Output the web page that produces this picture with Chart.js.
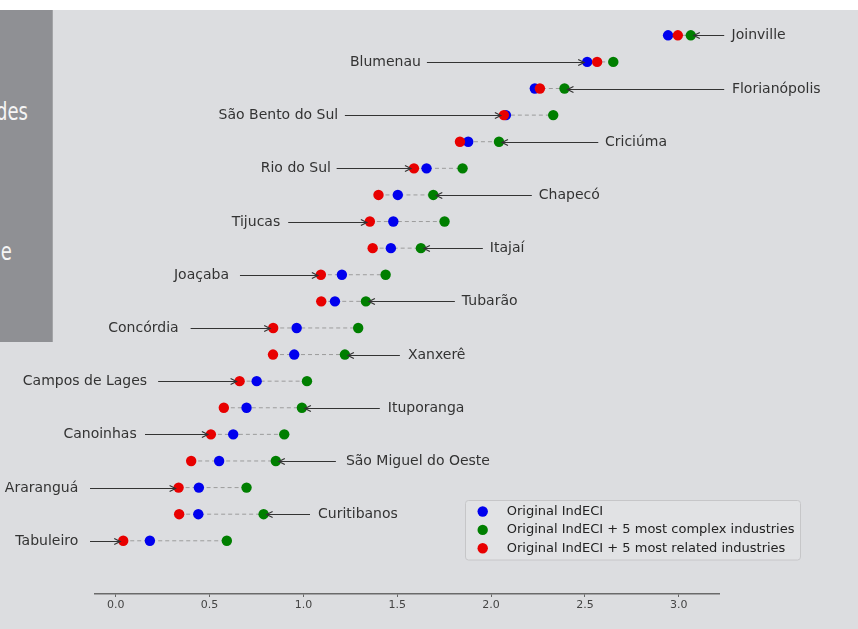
<!DOCTYPE html>
<html>
<head>
<meta charset="utf-8">
<script src="https://cdn.jsdelivr.net/npm/chart.js@4.4.1/dist/chart.umd.min.js"></script>
<style>
  html, body { margin: 0; padding: 0; background: #ffffff; overflow: hidden; }
  #bg { position: absolute; left: 0; top: 10px; width: 858px; height: 619px; background: #dcdde0; }
  #box { position: absolute; left: 0; top: 0; width: 858px; height: 629px; }
  #panel { position: absolute; left: 0; top: 10px; width: 52px; height: 332px; background: #8f9094;
           border-right: 1px solid #a3a4a7; overflow: hidden; }
  #panel span { position: absolute; white-space: nowrap; color: #f5f5f5;
                font-family: "DejaVu Sans Condensed", "Liberation Sans Narrow", sans-serif; font-size: 25px; line-height: 30px;
                transform: scaleX(0.8); transform-origin: right center; }
</style>
</head>
<body>
<div id="bg"></div>
<div id="box"><canvas id="myChart"></canvas></div>
<div id="panel"><span style="top:87px;right:24px">des</span><span style="top:227px;right:40px">e</span></div>
<script>
const regions = ["Joinville", "Blumenau", "Florianópolis", "São Bento do Sul", "Criciúma",
  "Rio do Sul", "Chapecó", "Tijucas", "Itajaí", "Joaçaba", "Tubarão", "Concórdia", "Xanxerê",
  "Campos de Lages", "Ituporanga", "Canoinhas", "São Miguel do Oeste", "Araranguá",
  "Curitibanos", "Tabuleiro"];
const original = [2.943, 2.512, 2.233, 2.079, 1.878, 1.656, 1.503, 1.479, 1.466, 1.205,
  1.168, 0.964, 0.951, 0.751, 0.697, 0.626, 0.551, 0.443, 0.440, 0.182];
const complexPlus = [3.064, 2.651, 2.391, 2.331, 2.042, 1.848, 1.692, 1.752, 1.626, 1.438,
  1.333, 1.292, 1.221, 1.019, 0.992, 0.898, 0.853, 0.697, 0.788, 0.592];
const relatedPlus = [2.995, 2.565, 2.260, 2.068, 1.834, 1.589, 1.400, 1.354, 1.369, 1.093,
  1.095, 0.839, 0.838, 0.660, 0.576, 0.507, 0.402, 0.335, 0.338, 0.040];
const tickValues = [0, 0.5, 1.0, 1.5, 2.0, 2.5, 3.0];

// where each label's arrow starts (x axis units) and the gap to its text (px)
const labelFrom = [3.242, 1.658, 3.242, 1.221, 2.571, 1.177, 2.217, 0.919, 1.956, 0.662,
  1.807, 0.399, 1.514, 0.226, 1.407, 0.156, 1.173, -0.137, 1.035, -0.137];
const labelGap = [7.4, 6, 7.7, 6.7, 6.7, 5.7, 7, 8, 7, 11, 7, 12, 8, 11, 8, 8.3, 10, 11.7, 8, 11.7];

const font = "DejaVu Sans";

const dumbbell = {
  id: "dumbbell",
  beforeDatasetsDraw(chart) {
    const { ctx, scales: { x, y } } = chart;
    ctx.save();
    ctx.strokeStyle = "#9c9c9c";
    ctx.lineWidth = 1;
    ctx.setLineDash([4, 3]);
    regions.forEach((r, i) => {
      const vals = [original[i], complexPlus[i], relatedPlus[i]];
      const py = y.getPixelForValue(i);
      ctx.beginPath();
      ctx.moveTo(x.getPixelForValue(Math.min(...vals)), py);
      ctx.lineTo(x.getPixelForValue(Math.max(...vals)), py);
      ctx.stroke();
    });
    ctx.restore();
  },
  afterDatasetsDraw(chart) {
    const { ctx, scales: { x, y } } = chart;
    ctx.save();
    ctx.strokeStyle = "#333";
    ctx.fillStyle = "#333";
    ctx.lineWidth = 1.2;
    ctx.font = "14px '" + font + "'";
    ctx.textBaseline = "middle";
    regions.forEach((r, i) => {
      const vals = [original[i], complexPlus[i], relatedPlus[i]];
      const right = i % 2 === 0;
      const py = Math.round(y.getPixelForValue(i)) + 0.5;
      const sx = x.getPixelForValue(labelFrom[i]);
      const dir = right ? -1 : 1;
      const tx = x.getPixelForValue(right ? Math.max(...vals) : Math.min(...vals)) - dir * 3;
      ctx.beginPath();
      ctx.moveTo(sx, py);
      ctx.lineTo(tx, py);
      ctx.moveTo(tx - dir * 6, py - 3);
      ctx.lineTo(tx, py);
      ctx.lineTo(tx - dir * 6, py + 3);
      ctx.stroke();
      ctx.textAlign = right ? "left" : "right";
      ctx.fillText(r, right ? sx + labelGap[i] : sx - labelGap[i], py);
    });
    ctx.restore();
  },
  afterDraw(chart) {
    const ctx = chart.ctx;
    const bx = 465.5, by = 500.5, bw = 335, bh = 59.5;
    ctx.save();
    ctx.beginPath();
    ctx.roundRect(bx, by, bw, bh, 3);
    ctx.fillStyle = "rgba(226,227,229,0.8)";
    ctx.fill();
    ctx.strokeStyle = "#c6c6c8";
    ctx.lineWidth = 1;
    ctx.stroke();
    ctx.font = "13px '" + font + "'";
    ctx.textBaseline = "middle";
    ctx.textAlign = "left";
    chart.data.datasets.forEach((ds, k) => {
      const cy = 511.5 + k * 18.4;
      ctx.beginPath();
      ctx.arc(482.7, cy, 5.2, 0, Math.PI * 2);
      ctx.fillStyle = ds.backgroundColor;
      ctx.fill();
      ctx.fillStyle = "#222";
      ctx.fillText(ds.label, 506.7, cy);
    });
    ctx.restore();
  }
};

const toPoints = (arr) => arr.map((v, i) => ({ x: v, y: i }));

const ctx = document.getElementById("myChart");
new Chart(ctx, {
  type: "scatter",
  data: {
    datasets: [
      { label: "Original IndECI", data: toPoints(original), backgroundColor: "#0000ee", order: 3 },
      { label: "Original IndECI + 5 most complex industries", data: toPoints(complexPlus), backgroundColor: "#007f00", order: 2 },
      { label: "Original IndECI + 5 most related industries", data: toPoints(relatedPlus), backgroundColor: "#e80000", order: 1 },
    ],
  },
  options: {
    responsive: true,
    maintainAspectRatio: false,
    animation: false,
    events: [],
    elements: { point: { radius: 5.2, borderWidth: 0, hoverRadius: 5.2 } },
    layout: { padding: { left: 94.7, right: 138.3, top: 8.7, bottom: 0 } },
    plugins: { legend: { display: false }, tooltip: { enabled: false } },
    scales: {
      x: {
        type: "linear",
        min: -0.112,
        max: 3.218,
        afterBuildTicks: (scale) => { scale.ticks = tickValues.map((v) => ({ value: v })); },
        afterFit: (scale) => { scale.height = 35; },
        grid: { drawOnChartArea: false, drawTicks: true, tickLength: 3, color: "#666", lineWidth: 1 },
        border: { display: true, color: "#6a6a6a", width: 1.4 },
        ticks: {
          color: "#444",
          padding: 2,
          font: { family: font, size: 11 },
          callback: (v) => Number(v).toFixed(1),
        },
      },
      y: {
        type: "linear",
        display: false,
        reverse: true,
        min: -1,
        max: 21.0,
      },
    },
  },
  plugins: [dumbbell],
});
</script>
</body>
</html>
